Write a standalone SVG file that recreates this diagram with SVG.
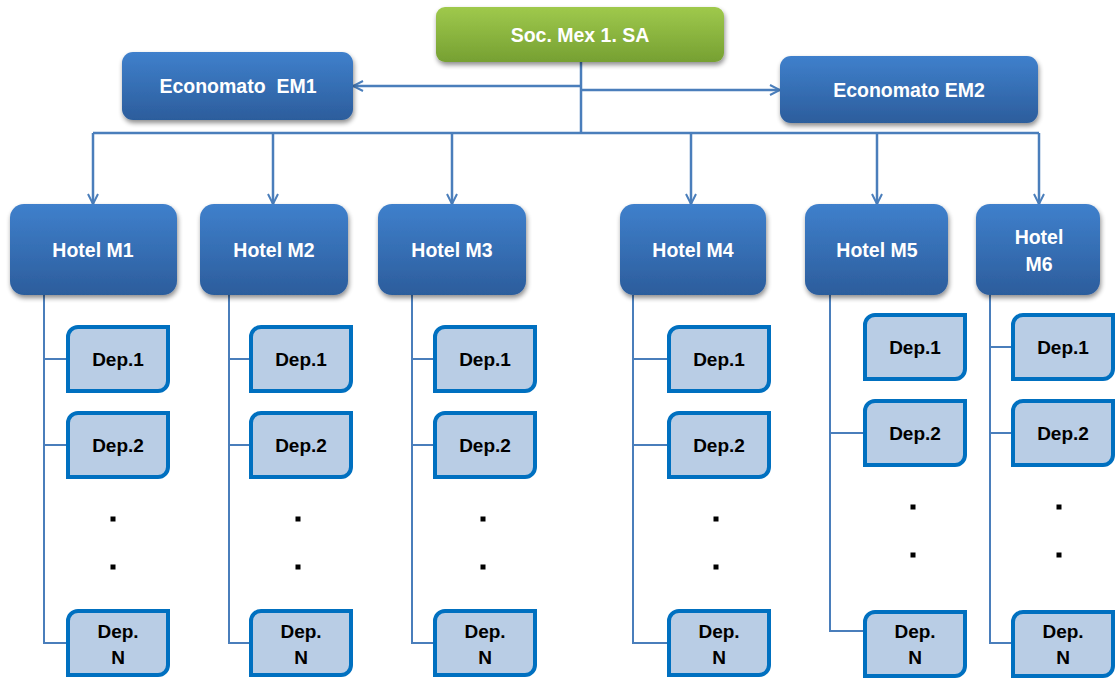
<svg xmlns="http://www.w3.org/2000/svg" width="1117" height="678" viewBox="0 0 1117 678">
  <defs>
    <linearGradient id="gGreen" x1="0" y1="0" x2="0" y2="1">
      <stop offset="0" stop-color="#9fc94c"/>
      <stop offset="1" stop-color="#76a032"/>
    </linearGradient>
    <linearGradient id="gBlue" x1="0" y1="0" x2="0" y2="1">
      <stop offset="0" stop-color="#3f80cc"/>
      <stop offset="1" stop-color="#2c5d9c"/>
    </linearGradient>
    <filter id="shadow" x="-10%" y="-20%" width="120%" height="150%">
      <feGaussianBlur in="SourceAlpha" stdDeviation="2.5"/>
      <feOffset dx="1" dy="3" result="b"/>
      <feComponentTransfer><feFuncA type="linear" slope="0.45"/></feComponentTransfer>
      <feMerge><feMergeNode/><feMergeNode in="SourceGraphic"/></feMerge>
    </filter>
    <marker id="arrow" viewBox="0 0 12 12" refX="11" refY="6" markerWidth="12" markerHeight="12" markerUnits="userSpaceOnUse" orient="auto">
      <path d="M1,1 L11,6 L1,11" fill="none" stroke="#4a7ebb" stroke-width="2"/>
    </marker>
    <!-- department box: rounded top-left and bottom-right corners -->
    <path id="dep" d="M10,0 H100 V54 A10,10 0 0 1 90,64 H0 V10 A10,10 0 0 1 10,0 Z"/>
  </defs>
  <style>
    .lbl { font-family: "Liberation Sans", Arial, sans-serif; font-weight: bold; fill: #ffffff; font-size: 19.5px; text-anchor: middle; white-space: pre; }
    .dlbl { font-family: "Liberation Sans", Arial, sans-serif; font-weight: bold; fill: #000000; font-size: 19px; text-anchor: middle; }
    .conn { fill: none; stroke: #4a7ebb; stroke-width: 2.5; }
    .sub { fill: none; stroke: #4a7ebb; stroke-width: 2; }
    .depbox { fill: #b9cde5; stroke: #0070c0; stroke-width: 4; }
    .hotel { fill: url(#gBlue); filter: url(#shadow); }
    .dot { fill: #000000; }
  </style>

  <g id="connectors">
    <path class="conn" d="M581,62 V133"/>
    <path class="conn" d="M581,86 H353" marker-end="url(#arrow)"/>
    <path class="conn" d="M581,90 H780" marker-end="url(#arrow)"/>
    <path class="conn" d="M93,133 H1039"/>
    <path class="conn" d="M93,133 V204" marker-end="url(#arrow)"/>
    <path class="conn" d="M273,133 V204" marker-end="url(#arrow)"/>
    <path class="conn" d="M452,133 V204" marker-end="url(#arrow)"/>
    <path class="conn" d="M691,133 V204" marker-end="url(#arrow)"/>
    <path class="conn" d="M877,133 V204" marker-end="url(#arrow)"/>
    <path class="conn" d="M1039,133 V204" marker-end="url(#arrow)"/>
    <!-- department trunks -->
    <path class="sub" d="M44,295 V643 H68 M44,359 H68 M44,445 H68"/>
    <path class="sub" d="M229,295 V643 H251 M229,359 H251 M229,445 H251"/>
    <path class="sub" d="M412,295 V643 H435 M412,359 H435 M412,445 H435"/>
    <path class="sub" d="M633,295 V643 H669 M633,359 H669 M633,445 H669"/>
    <path class="sub" d="M830,295 V631 H865 M830,433 H865"/>
    <path class="sub" d="M990,295 V643 H1013 M990,347 H1013 M990,433 H1013"/>
  </g>

  <g id="soc">
    <rect x="436" y="7" width="288" height="55" rx="9" fill="url(#gGreen)" filter="url(#shadow)"/>
    <text class="lbl" x="580" y="42">Soc. Mex 1. SA</text>
  </g>
  <g id="em1">
    <rect x="122" y="52" width="231" height="68" rx="11" class="hotel"/>
    <text class="lbl" x="238" y="93" xml:space="preserve">Economato  EM1</text>
  </g>
  <g id="em2">
    <rect x="780" y="56" width="258" height="67" rx="11" class="hotel"/>
    <text class="lbl" x="909" y="97">Economato EM2</text>
  </g>

  <g id="hotel-m1">
    <rect x="10" y="204" width="167" height="91" rx="14" class="hotel"/>
    <text class="lbl" x="93" y="257">Hotel M1</text>
  </g>
  <g id="hotel-m2">
    <rect x="200" y="204" width="148" height="91" rx="14" class="hotel"/>
    <text class="lbl" x="274" y="257">Hotel M2</text>
  </g>
  <g id="hotel-m3">
    <rect x="378" y="204" width="148" height="91" rx="14" class="hotel"/>
    <text class="lbl" x="452" y="257">Hotel M3</text>
  </g>
  <g id="hotel-m4">
    <rect x="620" y="204" width="146" height="91" rx="14" class="hotel"/>
    <text class="lbl" x="693" y="257">Hotel M4</text>
  </g>
  <g id="hotel-m5">
    <rect x="805" y="204" width="143" height="91" rx="14" class="hotel"/>
    <text class="lbl" x="877" y="257">Hotel M5</text>
  </g>
  <g id="hotel-m6">
    <rect x="976" y="204" width="124" height="91" rx="14" class="hotel"/>
    <text class="lbl" x="1039" y="244">Hotel</text>
    <text class="lbl" x="1039" y="271">M6</text>
  </g>

  <!-- column 1 -->
  <g id="m1-dep1"><use href="#dep" class="depbox" x="68" y="327"/><text class="dlbl" x="118" y="366">Dep.1</text></g>
  <g id="m1-dep2"><use href="#dep" class="depbox" x="68" y="413"/><text class="dlbl" x="118" y="452">Dep.2</text></g>
  <g id="m1-dots"><rect class="dot" x="110.5" y="516.5" width="5" height="5"/><rect class="dot" x="110.5" y="564.5" width="5" height="5"/></g>
  <g id="m1-depn"><use href="#dep" class="depbox" x="68" y="611"/><text class="dlbl" x="118" y="638">Dep.</text><text class="dlbl" x="118" y="664">N</text></g>

  <!-- column 2 -->
  <g id="m2-dep1"><use href="#dep" class="depbox" x="251" y="327"/><text class="dlbl" x="301" y="366">Dep.1</text></g>
  <g id="m2-dep2"><use href="#dep" class="depbox" x="251" y="413"/><text class="dlbl" x="301" y="452">Dep.2</text></g>
  <g id="m2-dots"><rect class="dot" x="295.5" y="516.5" width="5" height="5"/><rect class="dot" x="295.5" y="564.5" width="5" height="5"/></g>
  <g id="m2-depn"><use href="#dep" class="depbox" x="251" y="611"/><text class="dlbl" x="301" y="638">Dep.</text><text class="dlbl" x="301" y="664">N</text></g>

  <!-- column 3 -->
  <g id="m3-dep1"><use href="#dep" class="depbox" x="435" y="327"/><text class="dlbl" x="485" y="366">Dep.1</text></g>
  <g id="m3-dep2"><use href="#dep" class="depbox" x="435" y="413"/><text class="dlbl" x="485" y="452">Dep.2</text></g>
  <g id="m3-dots"><rect class="dot" x="480.5" y="516.5" width="5" height="5"/><rect class="dot" x="480.5" y="564.5" width="5" height="5"/></g>
  <g id="m3-depn"><use href="#dep" class="depbox" x="435" y="611"/><text class="dlbl" x="485" y="638">Dep.</text><text class="dlbl" x="485" y="664">N</text></g>

  <!-- column 4 -->
  <g id="m4-dep1"><use href="#dep" class="depbox" x="669" y="327"/><text class="dlbl" x="719" y="366">Dep.1</text></g>
  <g id="m4-dep2"><use href="#dep" class="depbox" x="669" y="413"/><text class="dlbl" x="719" y="452">Dep.2</text></g>
  <g id="m4-dots"><rect class="dot" x="713.5" y="516.5" width="5" height="5"/><rect class="dot" x="713.5" y="564.5" width="5" height="5"/></g>
  <g id="m4-depn"><use href="#dep" class="depbox" x="669" y="611"/><text class="dlbl" x="719" y="638">Dep.</text><text class="dlbl" x="719" y="664">N</text></g>

  <!-- column 5 -->
  <g id="m5-dep1"><use href="#dep" class="depbox" x="865" y="315"/><text class="dlbl" x="915" y="354">Dep.1</text></g>
  <g id="m5-dep2"><use href="#dep" class="depbox" x="865" y="401"/><text class="dlbl" x="915" y="440">Dep.2</text></g>
  <g id="m5-dots"><rect class="dot" x="910.5" y="504.5" width="5" height="5"/><rect class="dot" x="910.5" y="552.5" width="5" height="5"/></g>
  <g id="m5-depn"><use href="#dep" class="depbox" x="865" y="612"/><text class="dlbl" x="915" y="638">Dep.</text><text class="dlbl" x="915" y="664">N</text></g>

  <!-- column 6 -->
  <g id="m6-dep1"><use href="#dep" class="depbox" x="1013" y="315"/><text class="dlbl" x="1063" y="354">Dep.1</text></g>
  <g id="m6-dep2"><use href="#dep" class="depbox" x="1013" y="401"/><text class="dlbl" x="1063" y="440">Dep.2</text></g>
  <g id="m6-dots"><rect class="dot" x="1056.5" y="504.5" width="5" height="5"/><rect class="dot" x="1056.5" y="552.5" width="5" height="5"/></g>
  <g id="m6-depn"><use href="#dep" class="depbox" x="1013" y="612"/><text class="dlbl" x="1063" y="638">Dep.</text><text class="dlbl" x="1063" y="664">N</text></g>
</svg>
